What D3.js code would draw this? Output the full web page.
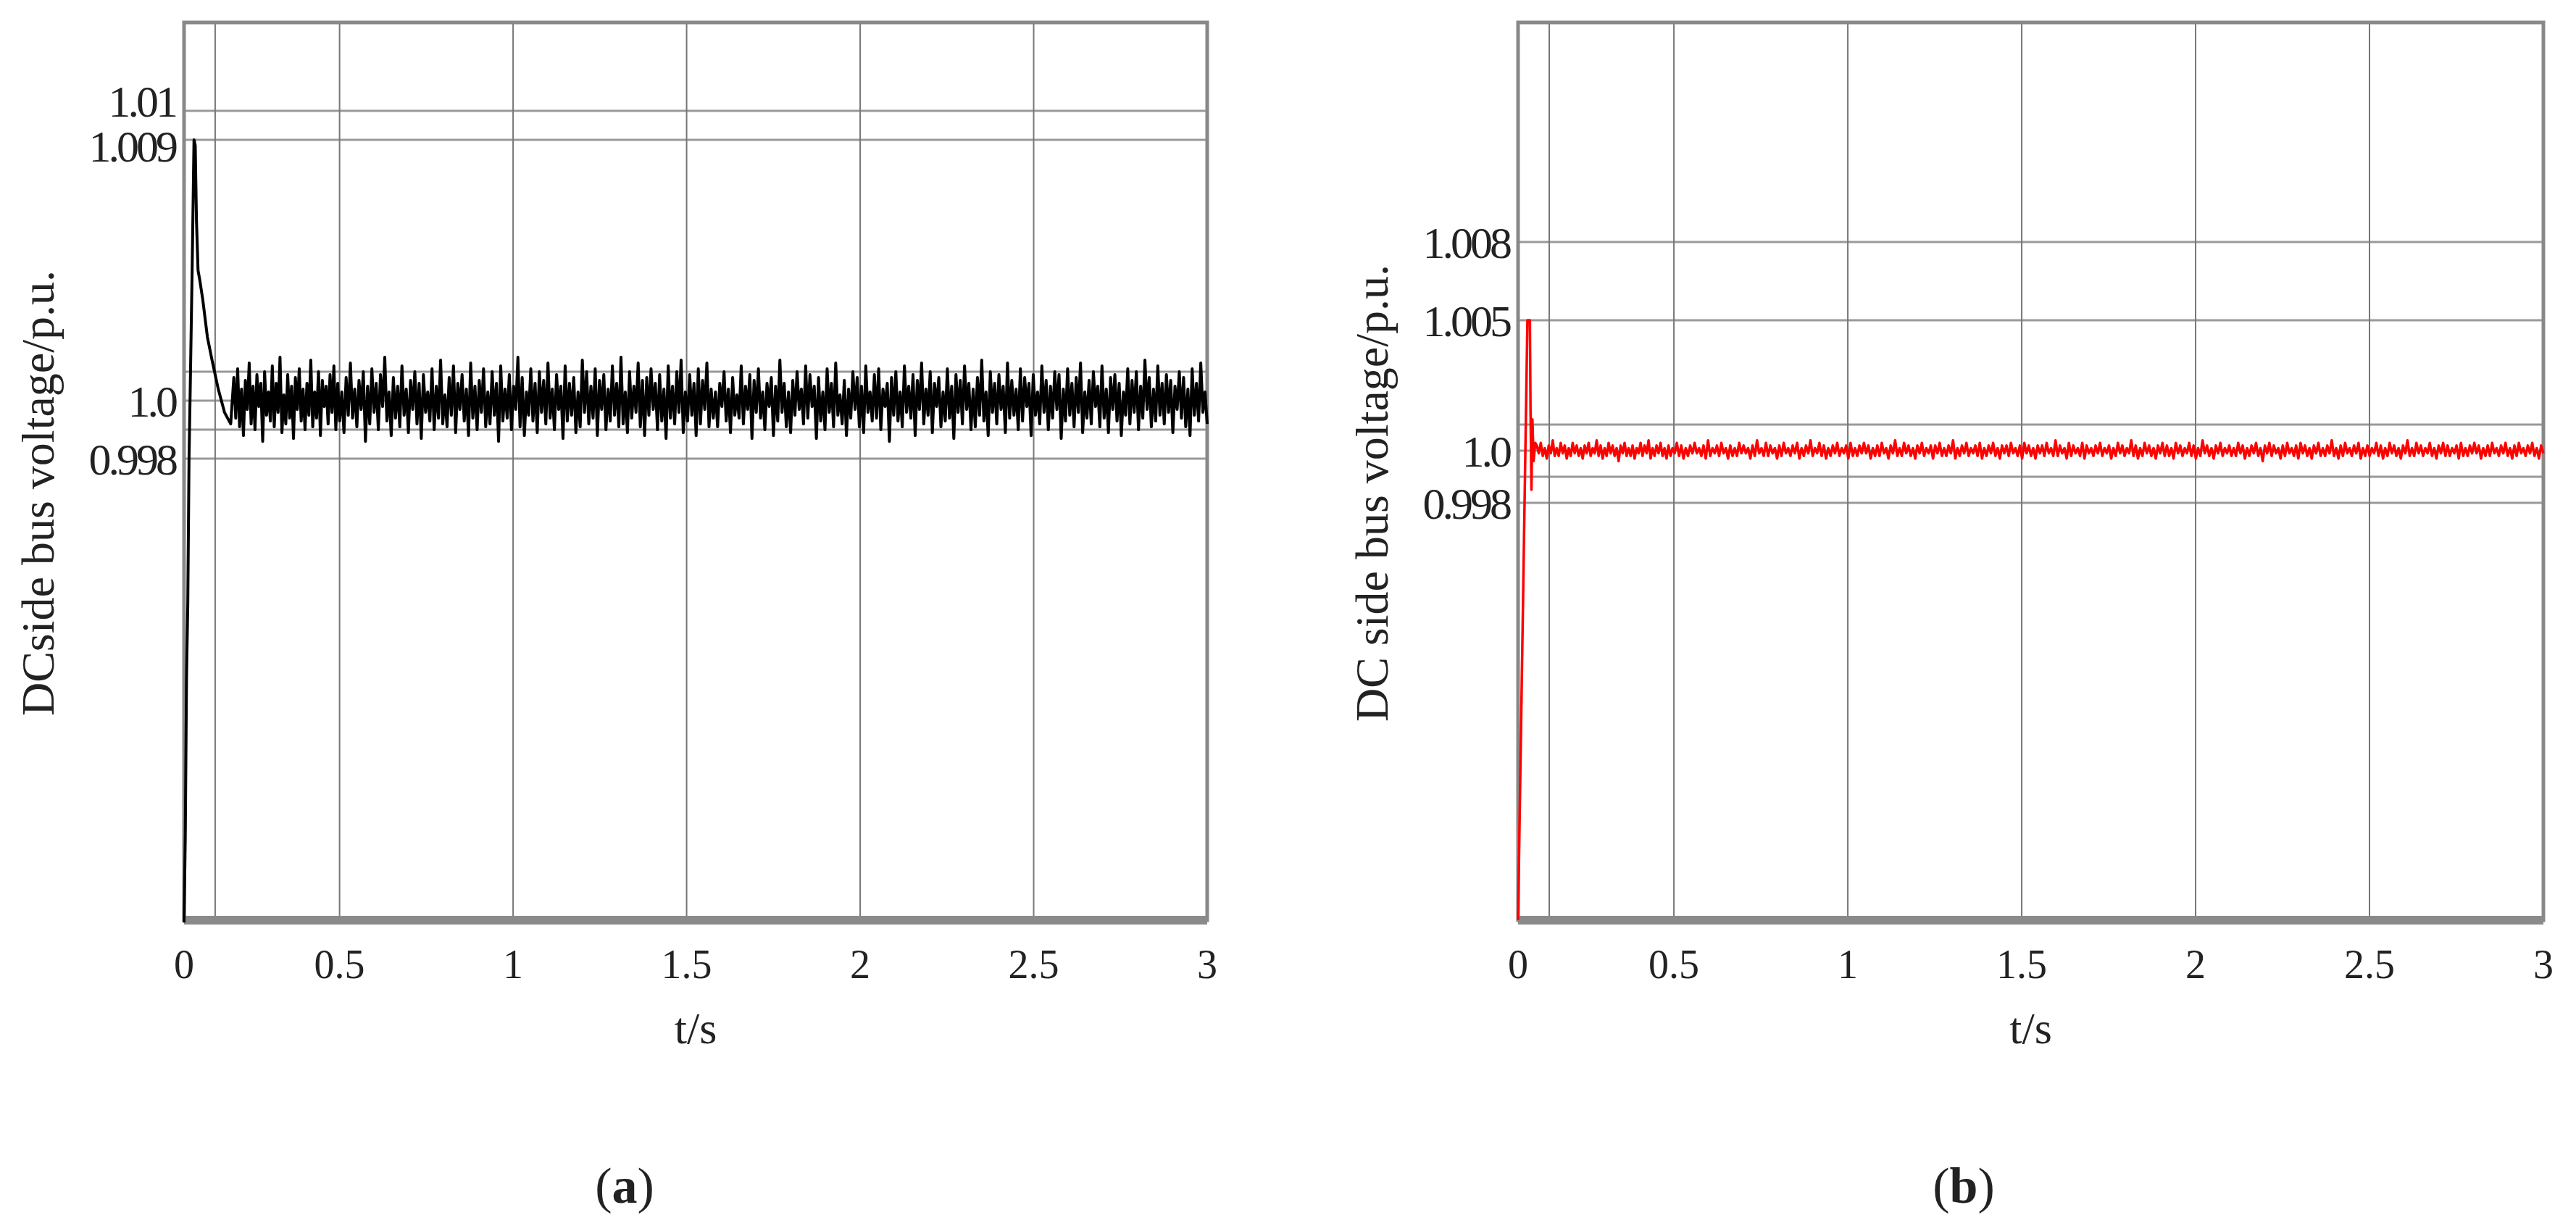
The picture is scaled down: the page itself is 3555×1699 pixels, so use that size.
<!DOCTYPE html>
<html>
<head>
<meta charset="UTF-8">
<script src="https://d3js.org/d3.v7.min.js"></script>
<style>
  body { margin: 0; background: #fff; }
  text { font-family: "Liberation Serif", "DejaVu Serif", serif; fill: #222; }
</style>
</head>
<body>
<svg id="fig" width="3555" height="1699"></svg>
<script>
  const xTicks = [0, 0.5, 1, 1.5, 2, 2.5, 3];
  const xGrid = [0.1, 0.5, 1, 1.5, 2, 2.5];

  // panel (a)
  const aTicks = [1.01, 1.009, 1.0, 0.998];
  const aTickLabels = ["1.01", "1.009", "1.0", "0.998"];
  const aGrid = [1.01, 1.009, 1.001, 1.0, 0.999, 0.998];
  const aStartT = [0, 0.004, 0.008, 0.012, 0.016, 0.02, 0.026, 0.032, 0.036, 0.04, 0.045, 0.05, 0.06, 0.075, 0.09, 0.11, 0.13, 0.15];
  const aStartV = [0.982, 0.985, 0.9905, 0.993, 0.998, 1.0005, 1.0045, 1.009, 1.0088, 1.0062, 1.0045, 1.0042, 1.0035, 1.0022, 1.0014, 1.0004, 0.9996, 0.9992];
  const aNoise = [8,-6,11,-9,4,-12,7,-3,13,-8,5,-10,9,-2,6,-14,10,-5,3,-7,12,-9,6,-4,15,-11,2,-8,9,-6,
    5,-13,8,-3,11,-7,4,-10,6,-5,14,-9,3,-6,10,-12,7,-2,5,-8,9,-4,12,-10,6,-7,3,-11,8,-5,
    13,-6,4,-9,7,-3,10,-14,5,-8,11,-4,6,-10,9,-2,15,-7,3,-12,8,-6,5,-9,12,-5,4,-11,7,-3,
    10,-8,6,-13,9,-4,3,-7,11,-10,5,-6,14,-8,2,-9,8,-5,12,-11,6,-3,9,-7,4,-12,13,-6,5,-10,
    7,-4,11,-9,3,-8,10,-5,6,-14,12,-7,4,-6,9,-10,5,-3,15,-9,8,-12,3,-5,11,-7,6,-11,10,-4,
    7,-8,13,-6,4,-10,9,-3,5,-13,12,-7,6,-5,8,-11,3,-9,14,-4,10,-8,5,-6,11,-12,7,-3,9,-10,
    4,-7,12,-5,6,-9,15,-8,3,-11,10,-6,5,-4,13,-9,7,-12,8,-5,11,-3,6,-10,9,-7,4,-13,12,-6,
    5,-8,10,-4,14,-11,3,-7,9,-5,6,-12,11,-8,7,-3,13,-9,4,-6,
    3,-9,6,-2,10,-7,4,-11,8,-5,2,-6,12,-8,5,-3,9,-13,7,-4,11,-6,3,-10,6,-2,8,-12,5,-7,
    14,-4,6,-9,3,-11,7,-5,10,-3,4,-8,12,-6,9,-2,5,-13,8,-7,3,-10,11,-4,6,-9,13,-5,2,-8,
    7,-12,4,-6,10,-3,8,-9,5,-11,12,-4,3,-7,9,-6,11,-10,4,-2,6,-14,8,-5,10,-7,3,-9,12,-4,
    5,-6,9,-12,7,-3,13,-8,4,-5,10,-11,6,-2,8,-9,3,-7,11,-6,5,-13,9,-4,7,-8,12,-3,6,-10,
    4,-9,8,-5,14,-7,3,-12,10,-4,6,-8,9,-3,5,-11,13,-6,7,-5,4,-10,11,-7,8,-2,6,-12,9,-5,
    3,-8,12,-4,7,-10,5,-6,10,-3,9,-13,4,-7,11,-5,6,-9,8,-4,13,-11,3,-6,7,-8,10,-2,5,-9,
    12,-6,4,-11,8,-3,9,-7,6,-12,3,-5,11,-8,7,-4,10,-10,5,-6,14,-3,8,-9,4,-7,12,-5,6,-8,
    9,-4,7,-11,5,-3,10,-6,8,-9,4,-12,11,-5,6,-7,13,-4,3,-8];

  // panel (b)
  const bTicks = [1.008, 1.005, 1.0, 0.998];
  const bTickLabels = ["1.008", "1.005", "1.0", "0.998"];
  const bGrid = [1.008, 1.005, 1.001, 1.0, 0.999, 0.998];
  const bStartT = [0, 0.03, 0.038, 0.04, 0.043, 0.046, 0.05, 0.055];
  const bStartV = [0.982, 1.005, 1.005, 1.0015, 0.9985, 1.0012, 0.9996, 1.0003];
  const bNoise = [2,-1,3,-2,1,-3,2,-1,4,-2,1,-2,3,-1,2,-3,1,-2,3,-1,2,-2,1,-3,2,-1,3,-2,1,-1,
    4,-2,2,-3,1,-2,3,-1,2,-2,1,-4,2,-1,3,-2,1,-2,2,-3,1,-1,3,-2,2,-1,4,-3,1,-2,
    2,-1,3,-2,1,-3,2,-2,1,-1,3,-2,2,-3,1,-2,2,-1,3,-1,1,-2,2,-3,4,-2,1,-1,2,-2,
    3,-1,1,-3,2,-2,1,-2,3,-1,2,-1,1,-3,2,-2,4,-1,1,-2,3,-2,2,-1,1,-3,2,-2,3,-1,
    1,-2,2,-1,3,-3,1,-2,2,-1,4,-2,1,-1,3,-2,2,-3,1,-2,2,-1,3,-2,1,-1,2,-3,3,-2,
    1,-2,2,-1,3,-1,2,-3,1,-2,2,-2,3,-1,1,-3,2,-1,4,-2,1,-2,3,-1,2,-2,1,-3,2,-1,
    3,-2,1,-1,2,-3,2,-1,3,-2,1,-2,2,-1,4,-3,1,-2,2,-1,3,-2,1,-1,2,-2,3,-3,1,-2,
    2,-1,3,-2,1,-3,2,-1,2,-2,3,-1,1,-2,2,-3,3,-1,2,-2,
    1,-3,2,-1,2,-2,3,-1,1,-2,4,-2,2,-1,1,-3,3,-2,2,-1,1,-2,3,-3,2,-1,1,-2,2,-1,
    3,-2,1,-1,2,-3,1,-2,3,-1,2,-2,1,-1,4,-2,2,-3,1,-2,3,-1,2,-2,1,-3,2,-1,3,-2,
    2,-2,1,-3,3,-1,2,-2,1,-1,3,-2,2,-3,1,-2,4,-1,2,-2,1,-3,2,-1,3,-2,1,-1,2,-2,
    1,-2,3,-1,2,-3,1,-2,2,-1,3,-2,1,-4,2,-1,3,-2,2,-1,1,-3,2,-2,3,-1,1,-2,2,-3,
    3,-1,2,-2,1,-3,2,-1,3,-2,1,-2,2,-1,4,-2,1,-3,2,-2,3,-1,1,-2,2,-1,3,-3,1,-2,
    2,-2,1,-1,3,-2,2,-3,1,-2,3,-1,2,-2,1,-3,2,-1,4,-2,1,-2,3,-1,2,-2,1,-1,3,-2,
    1,-3,2,-1,3,-2,2,-2,1,-1,2,-3,3,-2,1,-2,2,-1,3,-1,2,-3,1,-2,2,-2,3,-1,1,-2,
    2,-1,3,-2,1,-3,2,-2,3,-1,1,-2,2,-1,3,-2,1,-3,2,-1];

  function buildSeries(startT, startV, noise, t0) {
    const pts = startT.map((t, i) => ({t, v: startV[i]}));
    const step = (3 - t0) / (noise.length - 1);
    noise.forEach((n, i) => pts.push({t: t0 + i * step, v: 1 + n / 10000}));
    return pts;
  }

  const svg = d3.select('#fig');

  function panel(opt) {
    const g = svg.append('g').attr('transform', `translate(${opt.left} ${opt.top})`);
    const w = opt.width, h = opt.height;
    const x = d3.scaleLinear().domain([0, 0.5, 3]).range([0, w * 0.152, w]);
    const y = d3.scaleLinear().domain(opt.yDomain).range([h, 0]);

    g.selectAll('.hg').data(opt.grid).enter().append('line')
      .attr('x1', 0).attr('x2', w).attr('y1', d => y(d)).attr('y2', d => y(d))
      .attr('stroke', '#999').attr('stroke-width', 3);
    g.selectAll('.vg').data(xGrid).enter().append('line')
      .attr('x1', d => x(d)).attr('x2', d => x(d)).attr('y1', 0).attr('y2', h)
      .attr('stroke', '#777').attr('stroke-width', 2);

    g.append('rect').attr('width', w).attr('height', h)
      .attr('fill', 'none').attr('stroke', '#888').attr('stroke-width', 5);
    g.append('line').attr('x1', 0).attr('x2', w).attr('y1', h).attr('y2', h)
      .attr('stroke', '#8a8a8a').attr('stroke-width', 12);

    const line = d3.line().x(d => x(d.t)).y(d => y(d.v));
    g.append('path').attr('d', line(opt.data))
      .attr('fill', 'none').attr('stroke', opt.color).attr('stroke-width', opt.lw)
      .attr('stroke-linejoin', 'round');

    g.selectAll('.yt').data(opt.ticks).enter().append('text')
      .attr('x', -12).attr('y', (d, i) => y(d) - (opt.tickShift[i] || 0)).attr('dy', '0.35em')
      .attr('text-anchor', 'end').attr('font-size', 62).attr('letter-spacing', -4)
      .text((d, i) => opt.tickLabels[i]);
    g.selectAll('.xt').data(xTicks).enter().append('text')
      .attr('x', d => x(d)).attr('y', h + 80)
      .attr('text-anchor', 'middle').attr('font-size', 56)
      .text(d => d);

    g.append('text').attr('x', w / 2).attr('y', h + 170)
      .attr('text-anchor', 'middle').attr('font-size', 62).text('t/s');
    g.append('text')
      .attr('transform', `translate(${opt.ylabX} ${h / 2 + 30}) rotate(-90)`)
      .attr('text-anchor', 'middle').attr('font-size', 64).text(opt.ylabel);
    const cap = g.append('text').attr('x', opt.capX).attr('y', h + 390)
      .attr('text-anchor', 'middle').attr('font-size', 70);
    cap.append('tspan').text('(');
    cap.append('tspan').attr('font-weight', 'bold').text(opt.cap);
    cap.append('tspan').text(')');
  }

  panel({left: 254, top: 31, width: 1412, height: 1239,
    yDomain: [0.98208, 1.01305], grid: aGrid, ticks: aTicks, tickLabels: aTickLabels, tickShift: [14, -8],
    data: buildSeries(aStartT, aStartV, aNoise, 0.16), color: '#000', lw: 4,
    ylabel: 'DCside bus voltage/p.u.', ylabX: -180, capX: 608, cap: 'a'});

  panel({left: 2095, top: 31, width: 1415, height: 1239,
    yDomain: [0.982, 1.01642], grid: bGrid, ticks: bTicks, tickLabels: bTickLabels, tickShift: [],
    data: buildSeries(bStartT, bStartV, bNoise, 0.06), color: '#f00', lw: 3.5,
    ylabel: 'DC side bus voltage/p.u.', ylabX: -180, capX: 615, cap: 'b'});
</script>
</body>
</html>
